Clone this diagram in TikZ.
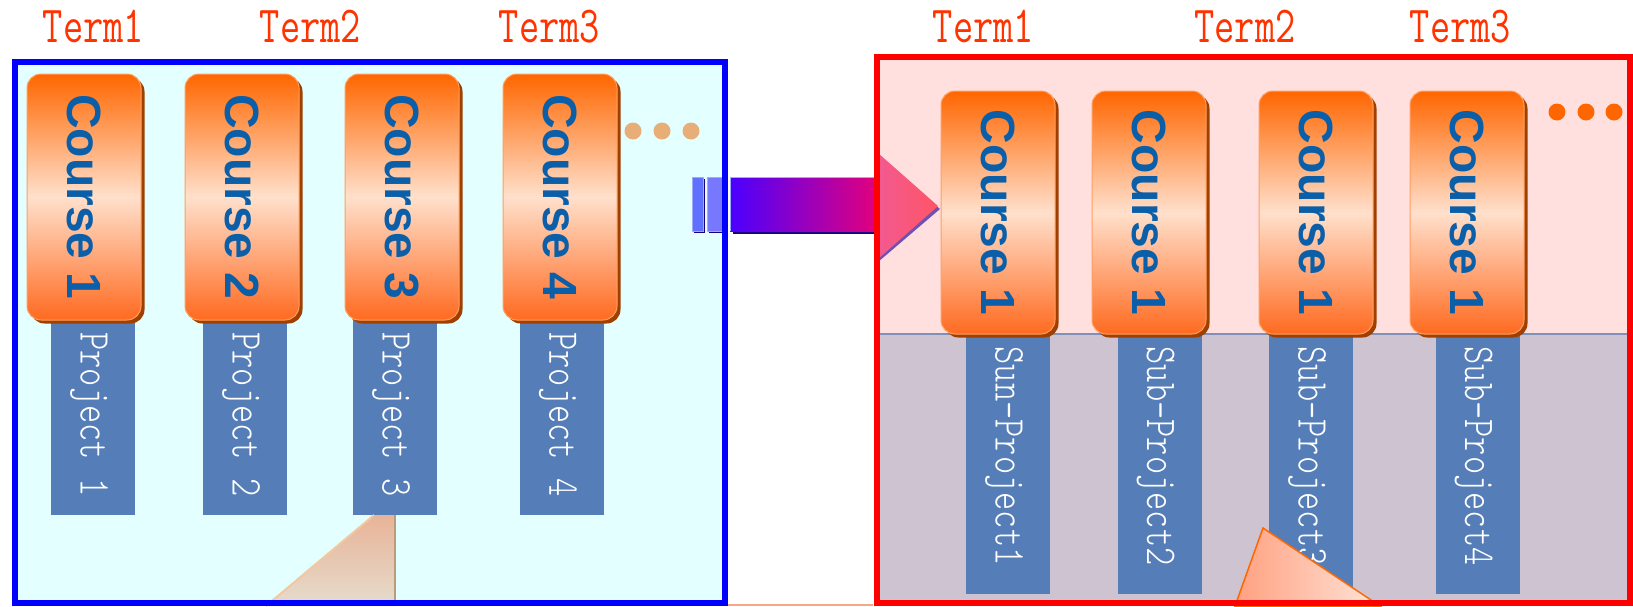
\documentclass[tikz,border=0pt]{standalone}
\usepackage{fontspec}
\usepackage{graphicx}
\usetikzlibrary{shadows}
\newfontfamily\coursefont{Liberation Sans}
\newfontfamily\lightmono{Latin Modern Mono Light}
\definecolor{cyanbg}{HTML}{E4FFFF}
\definecolor{pinkbg}{HTML}{FFE0DE}
\definecolor{mauvebg}{HTML}{CEC3D0}
\definecolor{sepline}{HTML}{8090B8}
\definecolor{projblue}{HTML}{557EB8}
\definecolor{cblue}{HTML}{0B5FA8}
\definecolor{orTop}{HTML}{FF6600}
\definecolor{orMid}{HTML}{FFE0CC}
\definecolor{orBot}{HTML}{FF6A20}
\definecolor{orEdge}{HTML}{FFA060}
\definecolor{shBrown}{HTML}{A04000}
\definecolor{termred}{HTML}{FF3300}
\definecolor{dotpeach}{HTML}{E8AE78}
\definecolor{dotorange}{HTML}{FF6600}
\definecolor{frameblue}{HTML}{0000FF}
\definecolor{framered}{HTML}{FF0000}
\definecolor{salmon}{HTML}{F4A888}
\definecolor{coneA}{HTML}{E8B498}
\definecolor{coneB}{HTML}{E6DCCC}
\definecolor{coneEdgeL}{HTML}{F2C8A0}
\definecolor{coneEdgeR}{HTML}{B89C7C}
\definecolor{coneC}{HTML}{FFA080}
\definecolor{coneD}{HTML}{FFE4D8}
\definecolor{coneEdge}{HTML}{FF6600}
\definecolor{barA}{HTML}{6070FF}
\definecolor{barB}{HTML}{7878FF}
\definecolor{barEdge}{HTML}{A0A8FF}
\definecolor{bodyL}{HTML}{4A00FF}
\definecolor{bodyR}{HTML}{E6007A}
\definecolor{bodySh}{HTML}{1A0080}
\definecolor{headL}{HTML}{F25A90}
\definecolor{headR}{HTML}{FF5566}
\definecolor{headSh}{HTML}{7050B0}
\newcommand\hsq[2]{\scalebox{#1}[1]{#2}}
\begin{document}
\begin{tikzpicture}[x=1pt,y=1pt,
  coursebox/.style={rounded corners=14pt, minimum width=114pt, inner sep=0pt,
    top color=orTop, bottom color=orBot, middle color=orMid,
    draw=orEdge, line width=1pt,
    general shadow={shadow xshift=3.5pt, shadow yshift=-3.5pt, fill=shBrown},
    text=cblue, font={\coursefont\bfseries\fontsize{48pt}{48pt}\selectfont}},
  projbox/.style={fill=projblue, minimum width=84pt, inner sep=0pt},
  projtext/.style={text=white, inner sep=0pt, font={\lightmono\fontsize{44pt}{44pt}\selectfont}},
  termlbl/.style={text=termred, anchor=base, inner sep=0pt, font={\ttfamily\fontsize{52pt}{52pt}\selectfont}},
  dotnode/.style={circle, minimum size=17pt, inner sep=0pt}
]
\useasboundingbox (0,0) rectangle (1633,-606);
\clip (0,0) rectangle (1633,-606);

% frame fills
\fill[cyanbg] (15,-62) rectangle (725,-603);
\fill[pinkbg] (876.5,-56.5) rectangle (1630,-603);
\fill[mauvebg] (876.5,-334) rectangle (1630,-603);
\draw[sepline, line width=1.2pt] (879,-334) -- (1627,-334);

% project boxes (left)
\node[projbox, minimum height=197pt] (lp1) at (93,-416.5) {};
\node[projbox, minimum height=197pt] (lp2) at (245,-416.5) {};
\node[projbox, minimum height=197pt] (lp3) at (395,-416.5) {};
\node[projbox, minimum height=197pt] (lp4) at (562,-416.5) {};
\node[projtext] (lt1) at (89,-414.5) {\rotatebox{-90}{\hsq{0.79}{Project 1}}};
\node[projtext] (lt2) at (241,-414.5) {\rotatebox{-90}{\hsq{0.79}{Project 2}}};
\node[projtext] (lt3) at (391,-414.5) {\rotatebox{-90}{\hsq{0.79}{Project 3}}};
\node[projtext] (lt4) at (558,-414.5) {\rotatebox{-90}{\hsq{0.79}{Project 4}}};

% project boxes (right)
\node[projbox, minimum height=261pt] (rp1) at (1008,-463.5) {};
\node[projbox, minimum height=261pt] (rp2) at (1159.5,-463.5) {};
\node[projbox, minimum height=261pt] (rp3) at (1311,-463.5) {};
\node[projbox, minimum height=261pt] (rp4) at (1477.5,-463.5) {};
\node[projtext] (rt1) at (1004,-456) {\rotatebox{-90}{\hsq{0.79}{Sun-Project1}}};
\node[projtext] (rt2) at (1155.5,-456) {\rotatebox{-90}{\hsq{0.79}{Sub-Project2}}};
\node[projtext] (rt3) at (1307,-456) {\rotatebox{-90}{\hsq{0.79}{Sub-Project3}}};
\node[projtext] (rt4) at (1473.5,-456) {\rotatebox{-90}{\hsq{0.79}{Sub-Project4}}};

% course boxes (left)
\node[coursebox, minimum height=246pt] (lc1) at (84,-197) {\rotatebox{-90}{Course 1}};
\node[coursebox, minimum height=246pt] (lc2) at (242,-197) {\rotatebox{-90}{Course 2}};
\node[coursebox, minimum height=246pt] (lc3) at (402,-197) {\rotatebox{-90}{Course 3}};
\node[coursebox, minimum height=246pt] (lc4) at (560,-197) {\rotatebox{-90}{Course 4}};

% course boxes (right)
\node[coursebox, minimum height=243pt] (rc1) at (998,-212.5) {\rotatebox{-90}{Course 1}};
\node[coursebox, minimum height=243pt] (rc2) at (1149,-212.5) {\rotatebox{-90}{Course 1}};
\node[coursebox, minimum height=243pt] (rc3) at (1316,-212.5) {\rotatebox{-90}{Course 1}};
\node[coursebox, minimum height=243pt] (rc4) at (1467,-212.5) {\rotatebox{-90}{Course 1}};

% dots
\node[dotnode, fill=dotpeach] (ld1) at (633,-131) {};
\node[dotnode, fill=dotpeach] (ld2) at (662,-131) {};
\node[dotnode, fill=dotpeach] (ld3) at (691,-131) {};
\node[dotnode, fill=dotorange] (rd1) at (1557,-112) {};
\node[dotnode, fill=dotorange] (rd2) at (1586,-112) {};
\node[dotnode, fill=dotorange] (rd3) at (1614,-112) {};

% cones
\shade[shading angle=45, top color=coneA, bottom color=coneB]
  (374,-515) -- (395,-515) -- (395,-606) -- (266,-606) -- cycle;
\draw[coneEdgeL, line width=2pt] (374,-515) -- (266,-606);
\draw[coneEdgeR, line width=2pt] (395,-515) -- (395,-606);
\shade[left color=coneC, right color=coneD, draw=coneEdge, line width=1.5pt]
  (1263,-528) -- (1380,-606) -- (1235,-606) -- cycle;

% block arrow
\fill[bodySh] (694,-179) rectangle (705,-233);
\fill[bodySh] (709,-179) rectangle (724,-233);
\fill[barA, draw=barEdge, line width=1pt] (692,-177) rectangle (703,-231);
\fill[barB, draw=barEdge, line width=1pt] (707,-177) rectangle (722,-231);
\fill[bodySh] (733,-180) rectangle (880,-234);
\shade[left color=bodyL, right color=bodyR] (730,-177) rectangle (880,-231);
\draw[barEdge, line width=1pt] (730,-231) -- (730,-177) -- (880,-177);
\fill[headSh] (878,-156) -- (940,-209) -- (878,-262) -- cycle;
\shade[left color=headL, right color=headR] (878,-153) -- (938,-206) -- (878,-259) -- cycle;

% frame borders
\draw[frameblue, line width=6pt] (15,-62) rectangle (725,-603);
\draw[framered, line width=6pt] (876.5,-56.5) rectangle (1630,-603);
\draw[salmon, line width=2pt] (728,-605) -- (873,-605);

% terms
\node[termlbl] (lterm1) at (93.5,-42) {\hsq{0.755}{Term1}};
\node[termlbl] (lterm2) at (310.5,-42) {\hsq{0.755}{Term2}};
\node[termlbl] (lterm3) at (549.5,-42) {\hsq{0.755}{Term3}};
\node[termlbl] (rterm1) at (983.5,-42) {\hsq{0.755}{Term1}};
\node[termlbl] (rterm2) at (1245,-42) {\hsq{0.755}{Term2}};
\node[termlbl] (rterm3) at (1460.5,-42) {\hsq{0.755}{Term3}};
\end{tikzpicture}
\end{document}
